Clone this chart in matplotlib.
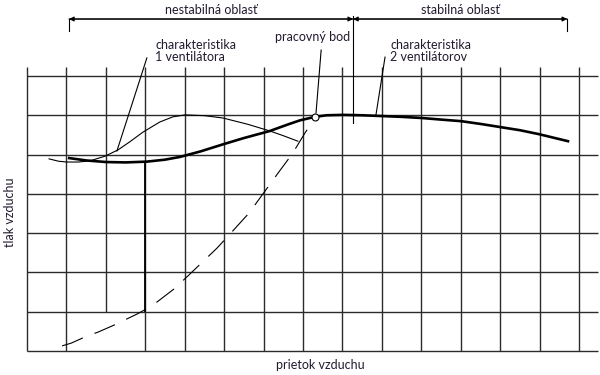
import numpy as np
import matplotlib.pyplot as plt

plt.rcParams['font.family'] = ['Lato', 'DejaVu Sans']
plt.rcParams['lines.scale_dashes'] = False

# grid (in grid cell units)
grid_cols = np.arange(0, 15)
grid_rows = np.arange(0, 8)

# characteristic of one fan (thin line)
fan1_x = [0.56, 0.80, 1.01, 1.30, 1.60, 1.98, 2.31, 2.60, 2.94, 3.37, 3.70, 4.01, 4.50, 4.97, 5.60, 6.16, 6.50, 6.87]
fan1_y = [4.89, 4.83, 4.81, 4.81, 4.84, 4.96, 5.12, 5.32, 5.57, 5.83, 5.96, 6.01, 5.99, 5.93, 5.77, 5.60, 5.48, 5.34]

# characteristic of two fans (thick line)
fan2_x = [1.07, 1.50, 2.00, 2.50, 3.04, 3.50, 3.88, 4.40, 4.97, 5.50, 6.16, 6.60, 6.92, 7.30,
          7.60, 8.01, 8.50, 9.00, 9.50, 10.02, 10.50, 11.01, 11.50, 12.00, 12.50, 12.98, 13.72]
fan2_y = [4.91, 4.85, 4.81, 4.80, 4.82, 4.87, 4.94, 5.08, 5.26, 5.42, 5.60, 5.76, 5.87, 5.96,
          6.00, 6.01, 6.00, 5.98, 5.96, 5.93, 5.89, 5.85, 5.78, 5.70, 5.62, 5.52, 5.34]

# system curve (dashed)
sys_x = [0.89, 1.12, 1.52, 1.80, 2.21, 2.79, 3.17, 3.73, 4.08, 4.82, 5.15, 5.63, 6.39, 6.67, 6.82, 7.05, 7.30]
sys_y = [0.13, 0.20, 0.38, 0.48, 0.66, 0.94, 1.15, 1.58, 1.91, 2.62, 2.98, 3.51, 4.56, 4.94, 5.17, 5.55, 5.93]

# operating point
work_x, work_y = 7.30, 5.96

# stable / unstable region boundaries
region_left, region_split, region_right = 1.065, 8.27, 13.70

fig = plt.figure(figsize=(6, 3.75), dpi=100)
ax = fig.add_axes([0, 0, 1, 1])
ax.set_xlim(-0.685, 14.532)
ax.set_ylim(-0.611, 8.934)
ax.axis('off')

gc = '#2b2b2b'
for c in grid_cols:
    bottom = 0.99 if c == 2 else 0
    ax.plot([c, c], [bottom, 7.23], color=gc, lw=1.0, solid_capstyle='butt')
for r in grid_rows:
    ax.plot([0, 14.48], [r, r], color=gc, lw=1.0, solid_capstyle='butt')
# darker piece under the start of the twin characteristic
ax.plot([3, 3], [0.99, 4.82], color='black', lw=1.3, solid_capstyle='butt')

ax.plot(fan1_x, fan1_y, color='black', lw=0.8)
ax.plot(fan2_x, fan2_y, color='black', lw=1.9, solid_joinstyle='round')
ax.plot(sys_x, sys_y, color='black', lw=0.8, linestyle=(0, (16, 9)))
ax.plot(work_x, work_y, 'o', ms=5, mfc='white', mec='black', mew=0.8)

# region arrows
ay = 8.45
arrow = dict(arrowstyle='-|>', color='black', lw=0.8, mutation_scale=7, shrinkA=0, shrinkB=0)
for a, b in [(region_left, region_split), (region_split, region_left),
             (region_right, region_split), (region_split, region_right)]:
    ax.annotate('', xy=(a, ay), xytext=(b, ay), arrowprops=arrow)
ax.plot([region_left, region_left], [ay, 8.14], color='black', lw=0.8)
ax.plot([region_right, region_right], [ay, 8.14], color='black', lw=0.8)
ax.plot([region_split, region_split], [8.53, 5.80], color='black', lw=0.8)

tc = '#231a2e'
fs = 9
ax.text(4.67, 8.68, 'nestabilná oblasť', ha='center', va='center', fontsize=fs, color=tc)
ax.text(10.98, 8.68, 'stabilná oblasť', ha='center', va='center', fontsize=fs, color=tc)

ax.text(3.25, 7.64, 'charakteristika\n1 ventilátora', ha='left', va='center',
        fontsize=fs, color=tc, linespacing=1.0)
ax.plot([3.04, 2.28], [7.46, 5.09], color='black', lw=0.8)

ax.text(7.23, 7.99, 'pracovný bod', ha='center', va='center', fontsize=fs, color=tc)
ax.plot([7.46, 7.33], [7.66, 6.06], color='black', lw=0.8)

ax.text(9.21, 7.64, 'charakteristika\n2 ventilátorov', ha='left', va='center',
        fontsize=fs, color=tc, linespacing=1.0)
ax.plot([9.08, 8.85], [7.48, 6.01], color='black', lw=0.8)

ax.text(-0.43, 3.52, 'tlak vzduchu', ha='center', va='center', rotation=90,
        fontsize=fs, color=tc)
ax.text(7.43, -0.36, 'prietok vzduchu', ha='center', va='center', fontsize=fs, color=tc)

fig.savefig('out.png', dpi=100)
